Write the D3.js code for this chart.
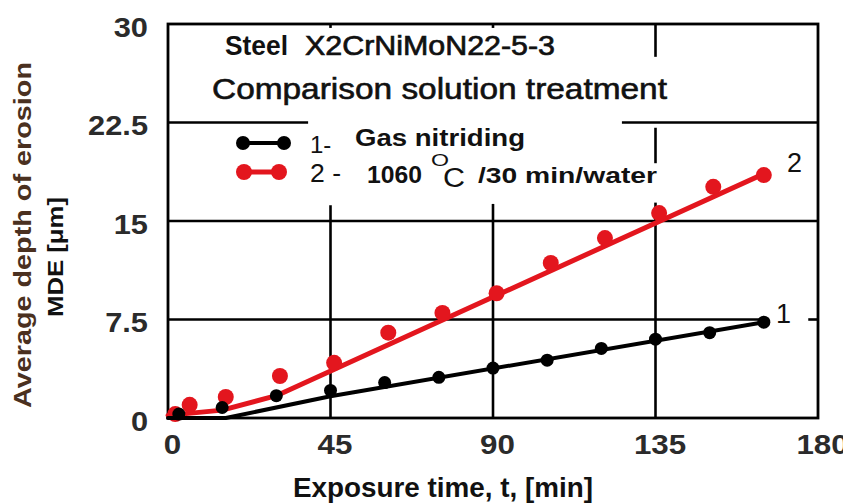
<!DOCTYPE html>
<html>
<head>
<meta charset="utf-8">
<script src="https://cdn.jsdelivr.net/npm/d3@7"></script>
<style>
  body { margin: 0; background: #fff; }
  svg text { font-family: "Liberation Sans", Arial, sans-serif; }
</style>
</head>
<body>
<div id="container"></div>
<script>
/*
    Chart data
*/
var timeTicks = [0, 45, 90, 135, 180];
var depthTicks = [0, 7.5, 15, 22.5, 30];

// curve 1 - gas nitriding (black)
var nitridedTime  = [3, 15, 30, 45, 60, 75, 90, 105, 120, 135, 150, 165];
var nitridedDepth = [0.3, 0.8, 1.7, 2.1, 2.7, 3.1, 3.8, 4.4, 5.3, 6.0, 6.5, 7.3];
var nitridedFitTime  = [0, 16, 45, 165];
var nitridedFitDepth = [0, 0, 1.65, 7.3];

// curve 2 - 1060 C / 30 min / water (red)
var solutionTime  = [2, 6, 16, 31, 46, 61, 76, 91, 106, 121, 136, 151, 165];
var solutionDepth = [0.3, 1.0, 1.6, 3.2, 4.2, 6.5, 8.0, 9.5, 11.8, 13.7, 15.6, 17.6, 18.5];
var solutionFitTime  = [0, 15, 30, 165];
var solutionFitDepth = [0.2, 0.6, 1.7, 18.6];

// grid lines and the stretches hidden behind the captions
var gridTimes  = [45, 90, 135];
var gridDepths = [7.5, 15, 22.5];
var gridGaps = [
    {axis: "t", at: 45,   from: 16.2, to: 29.7},
    {axis: "t", at: 90,   from: 16.3, to: 29.7},
    {axis: "t", at: 135,  from: 16.4, to: 19.4},
    {axis: "t", at: 135,  from: 22.1, to: 27.5},
    {axis: "d", at: 22.5, from: 38.8, to: 125.7},
    {axis: "d", at: 7.5,  from: 166.5, to: 177.3}
];

var RED = "#e3161e";
var INK = "#111";

var width = 843, height = 504;
var margin = {top: 24, right: 25, bottom: 86, left: 168};

var svg = d3.select("#container").append("svg")
    .attr("width", width)
    .attr("height", height);

var x = d3.scaleLinear().domain([0, 180]).range([margin.left, width - margin.right]);
var y = d3.scaleLinear().domain([0, 30]).range([height - margin.bottom, margin.top]);

/*
    squeeze / stretch a text node to a given pixel width
*/
function fitWidth(sel, w) {
    sel.attr("textLength", w).attr("lengthAdjust", "spacingAndGlyphs");
}
function stretch(sel, k) {
    sel.each(function () {
        var w = this.getComputedTextLength();
        d3.select(this).attr("textLength", w * k).attr("lengthAdjust", "spacingAndGlyphs");
    });
}

/*
    grid: each line split into visible pieces
*/
function pieces(axis, at, lo, hi) {
    var gaps = gridGaps.filter(function (g) { return g.axis == axis && g.at == at; })
        .sort(function (a, b) { return a.from - b.from; });
    var out = [], start = lo;
    gaps.forEach(function (g) {
        out.push([start, g.from]);
        start = g.to;
    });
    out.push([start, hi]);
    return out;
}

var gridG = svg.append("g").attr("stroke", "#000").attr("stroke-width", 2.6);
gridTimes.forEach(function (t) {
    pieces("t", t, 0, 30).forEach(function (p) {
        gridG.append("line")
            .attr("x1", x(t)).attr("x2", x(t))
            .attr("y1", y(p[0])).attr("y2", y(p[1]));
    });
});
gridDepths.forEach(function (d) {
    pieces("d", d, 0, 180).forEach(function (p) {
        gridG.append("line")
            .attr("x1", x(p[0])).attr("x2", x(p[1]))
            .attr("y1", y(d)).attr("y2", y(d));
    });
});

// frame
svg.append("rect")
    .attr("x", x(0)).attr("y", y(30))
    .attr("width", x(180) - x(0)).attr("height", y(0) - y(30))
    .attr("fill", "none").attr("stroke", "#000").attr("stroke-width", 2.8);

/*
    axes (labels only)
*/
var yAxis = d3.axisLeft(y).tickValues(depthTicks).tickSize(0).tickPadding(20)
    .tickFormat(function (d) { return d; });
var yg = svg.append("g").attr("transform", "translate(" + x(0) + ",0)").call(yAxis);
yg.select(".domain").remove();
yg.selectAll("text")
    .attr("font-size", 27).attr("font-weight", "bold")
    .attr("font-family", "Liberation Sans, Arial, sans-serif")
    .attr("fill", "#2b2b2b").attr("dy", "0.45em");
stretch(yg.selectAll("text"), 1.14);

var xAxis = d3.axisBottom(x).tickValues(timeTicks).tickSize(0).tickPadding(17);
var xg = svg.append("g").attr("transform", "translate(0," + y(0) + ")").call(xAxis);
xg.select(".domain").remove();
xg.selectAll("text")
    .attr("font-size", 27).attr("font-weight", "bold")
    .attr("font-family", "Liberation Sans, Arial, sans-serif")
    .attr("fill", "#2b2b2b").attr("dx", 4);
stretch(xg.selectAll("text"), 1.16);

/*
    series: fitted line + measured points
*/
var line = d3.line()
    .x(function (d) { return x(d[0]); })
    .y(function (d) { return y(d[1]); });

function drawSeries(fitT, fitD, ptT, ptD, color, lw, r) {
    svg.append("path")
        .datum(d3.zip(fitT, fitD))
        .attr("d", line)
        .attr("fill", "none")
        .attr("stroke", color)
        .attr("stroke-width", lw)
        .attr("stroke-linejoin", "round")
        .attr("stroke-linecap", "round");
    svg.append("g").selectAll("circle")
        .data(d3.zip(ptT, ptD))
        .enter().append("circle")
        .attr("cx", function (d) { return x(d[0]); })
        .attr("cy", function (d) { return y(d[1]); })
        .attr("r", r)
        .attr("fill", color);
}
drawSeries(solutionFitTime, solutionFitDepth, solutionTime, solutionDepth, RED, 5, 8);
drawSeries(nitridedFitTime, nitridedFitDepth, nitridedTime, nitridedDepth, "#000", 4, 6.5);

/*
    captions
*/
function label(txt, px, py, size, weight, w, heavy) {
    var t = svg.append("text")
        .attr("x", px).attr("y", py)
        .attr("font-size", size)
        .attr("font-weight", weight)
        .attr("fill", INK)
        .text(txt);
    if (heavy) t.attr("stroke", INK).attr("stroke-width", heavy);
    if (w) fitWidth(t, w);
    return t;
}

label("Steel", 225, 55, 27, "bold", 63);
label("X2CrNiMoN22-5-3", 305, 55, 28, "normal", 250, 0.7);
label("Comparison solution treatment", 212, 99, 29, "normal", 455, 0.6);

// legend symbols
function legendSymbol(x1, x2, py, color, lw, r) {
    svg.append("line")
        .attr("x1", x1).attr("x2", x2).attr("y1", py).attr("y2", py)
        .attr("stroke", color).attr("stroke-width", lw);
    [x1, x2].forEach(function (cx) {
        svg.append("circle").attr("cx", cx).attr("cy", py).attr("r", r).attr("fill", color);
    });
}
legendSymbol(243, 284, 143, "#000", 4, 7);
legendSymbol(244, 279, 172, RED, 5, 8);

label("1-", 310, 153, 24, "normal");
label("Gas nitriding", 355, 146, 23, "bold", 170);
label("2 -", 310, 182, 26, "normal", 31);
label("1060", 367, 183, 23, "bold", 55);
label("O", 431, 166, 16, "normal", 18);
label("C", 443, 187, 27, "normal", 22);
label("/30 min/water", 478, 183, 22, "bold", 179);

// curve numbers
label("2", 787, 172, 27, "normal");
label("1", 776, 323, 27, "normal");

// axis titles
var xt = svg.append("text")
    .attr("x", 443).attr("y", 497)
    .attr("text-anchor", "middle")
    .attr("font-size", 27).attr("font-weight", "bold").attr("fill", INK)
    .text("Exposure time, t, [min]");
fitWidth(xt, 300);

var yt1 = svg.append("text")
    .attr("transform", "translate(31,235)rotate(-90)")
    .attr("text-anchor", "middle")
    .attr("font-size", 24).attr("font-weight", "bold").attr("fill", "#4a3020")
    .text("Average depth of erosion");
fitWidth(yt1, 346);

var yt2 = svg.append("text")
    .attr("transform", "translate(63,257)rotate(-90)")
    .attr("text-anchor", "middle")
    .attr("font-size", 22).attr("font-weight", "bold").attr("fill", INK)
    .text("MDE [\u03bcm]");
fitWidth(yt2, 120);
</script>
</body>
</html>
